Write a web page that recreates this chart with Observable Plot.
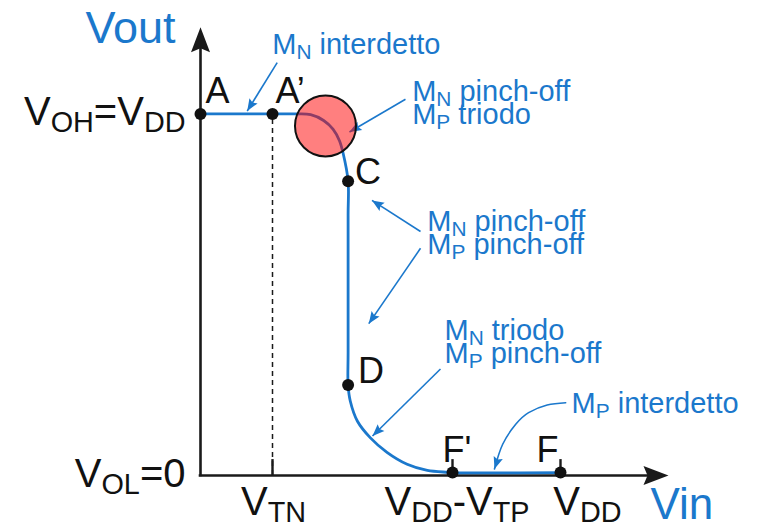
<!DOCTYPE html>
<html>
<head>
<meta charset="utf-8">
<script src="https://cdn.jsdelivr.net/npm/d3@7"></script>
<script src="https://cdn.jsdelivr.net/npm/@observablehq/plot@0.6"></script>
<style>
  html, body { margin: 0; padding: 0; background: #fff; }
  #chart svg { display: block; overflow: visible; }
</style>
</head>
<body>
<div id="chart"></div>
<script>
// CMOS inverter: voltage transfer characteristic Vout(Vin)
const VDD = 5, VTN = 1, VDD_MINUS_VTP = 3.5;

// Transfer curve, traced from A (Vin = 0) to F (Vin = VDD)
const curveVin  = [0, 1.0, 1.32, 1.53, 1.71, 1.84, 1.93, 1.98, 2.05, 2.05, 2.05, 2.05, 2.08, 2.18, 2.36, 2.59, 2.87, 3.15, 3.43, 3.5, 5.0];
const curveVout = [5, 5.0, 5.0, 4.99, 4.91, 4.79, 4.63, 4.46, 4.07, 3.6, 1.7, 1.25, 1.03, 0.75, 0.52, 0.32, 0.155, 0.07, 0.045, 0.04, 0.04];

// Named operating points
const pointNames = ["A", "A’", "C", "D", "F'", "F"];
const pointVin   = [0, VTN, 2.05, 2.05, VDD_MINUS_VTP, VDD];
const pointVout  = [VDD, VDD, 4.07, 1.25, 0.04, 0.04];

// Axis ticks
const xTickValues = [VTN, VDD_MINUS_VTP, VDD];
const xTickLabels = ["V_{TN}", "V_{DD}-V_{TP}", "V_{DD}"];
const yTickValues = [VDD, 0];
const yTickLabels = ["V_{OH}=V_{DD}", "V_{OL}=0"];

// Transistor regions along the curve
const noteTexts = [
  "M_{N} interdetto",
  "M_{N} pinch-off\nM_{P} triodo",
  "M_{N} pinch-off\nM_{P} pinch-off",
  "M_{N} triodo\nM_{P} pinch-off",
  "M_{P} interdetto"
];
const noteVin  = [0.996, 2.94, 3.149, 3.389, 5.153];
const noteVout = [5.826, 4.866, 3.059, 1.556, 0.864];

// Straight pointers from each note to the curve
const pointerFromVin  = [1.065, 2.847, 3.056, 3.056, 3.333];
const pointerFromVout = [5.71, 5.203, 3.375, 3.142, 1.473];
const pointerToVin    = [0.649, 2.069, 2.382, 2.337, 2.389];
const pointerToVout   = [5.04, 4.751, 3.804, 2.10, 0.546];

// Bent pointer for "MP interdetto"
const bentPointerVin  = [5.072, 4.815, 4.557, 4.378, 4.197, 4.083];
const bentPointerVout = [1.007, 0.975, 0.869, 0.708, 0.432, 0.09];

// Highlighted knee of the curve
const kneeVin = [1.736], kneeVout = [4.834];

// ---- layout ----
const W = 761, H = 527;
const M = {left: 200, right: 21, top: 5, bottom: 52};
const xMax = 7.5, yMax = 6.5;
const xAxisEnd = 6.5, yAxisEnd = 6.2;
const kx = (W - M.left - M.right) / xMax;
const ky = (H - M.top - M.bottom) / yMax;

const blue = "#1b78cc";
const ink = "#1a1a1a";
const font = "Liberation Sans, Arial, Helvetica, sans-serif";

// clockwise angle (deg) of a screen-space direction, measured from "up"
function heading(x1, y1, x2, y2) {
  const vx = (x2 - x1) * kx, vy = -(y2 - y1) * ky;
  return Math.atan2(vx, -vy) * 180 / Math.PI;
}

// filled arrowhead, tip at the origin pointing up
const arrowHead = (len, half, notch) => ({
  draw(ctx) {
    ctx.moveTo(0, 0);
    ctx.lineTo(half, len);
    ctx.lineTo(0, len - notch);
    ctx.lineTo(-half, len);
    ctx.closePath();
  }
});

const curve = curveVin.map((v, i) => ({vin: v, vout: curveVout[i]}));
const points = pointNames.map((n, i) => ({name: n, vin: pointVin[i], vout: pointVout[i]}));
const pointers = pointerFromVin.map((v, i) => ({
  x1: v, y1: pointerFromVout[i], x2: pointerToVin[i], y2: pointerToVout[i],
  angle: heading(v, pointerFromVout[i], pointerToVin[i], pointerToVout[i])
}));
const bent = bentPointerVin.map((v, i) => ({vin: v, vout: bentPointerVout[i]}));
const nb = bent.length;
pointers.push({
  x2: bent[nb - 1].vin, y2: bent[nb - 1].vout,
  angle: heading(bent[nb - 2].vin, bent[nb - 2].vout, bent[nb - 1].vin, bent[nb - 1].vout)
});
const notes = noteTexts.map((t, i) => ({text: t, vin: noteVin[i], vout: noteVout[i]}));

// label offsets in pixels, relative to the labelled point
const pointLabelOffset = {
  "A": [5, -11], "A’": [3, -11], "C": [7, 3], "D": [10, -2], "F'": [-10, -11], "F": [-24, -11]
};
const xTickLabelShift = [1, 4.5, 27];

const marks = [
  // dashed guide from A' down to VTN
  Plot.ruleX([VTN], {y1: 0, y2: VDD, stroke: ink, strokeWidth: 1.5, strokeDasharray: "5,4"}),
  // axes
  Plot.ruleY([0], {x1: 0, x2: xAxisEnd - 0.2, stroke: ink, strokeWidth: 2.6, strokeLinecap: "square"}),
  Plot.ruleX([0], {y1: 0, y2: yAxisEnd - 0.2, stroke: ink, strokeWidth: 2.6, strokeLinecap: "square"}),
  Plot.ruleX(xTickValues, {y1: 0, y2: 0.22, stroke: ink, strokeWidth: 2.4}),
  Plot.dot([{x: xAxisEnd, y: 0, a: 90}, {x: 0, y: yAxisEnd, a: 0}], {
    x: "x", y: "y", rotate: "a", symbol: arrowHead(25, 9.5, 4), fill: ink, stroke: "none"
  }),
  // transfer curve
  Plot.line(curve, {x: "vin", y: "vout", stroke: blue, strokeWidth: 2.8, curve: "catmull-rom"}),
  // pointers
  Plot.link(pointers.slice(0, -1), {x1: "x1", y1: "y1", x2: "x2", y2: "y2", stroke: blue, strokeWidth: 1.6}),
  Plot.line(bent, {x: "vin", y: "vout", stroke: blue, strokeWidth: 1.6, curve: "natural"}),
  Plot.dot(pointers, {x: "x2", y: "y2", rotate: "angle", symbol: arrowHead(12, 4.8, 2), fill: blue, stroke: "none"}),
  // operating points
  Plot.dot(points, {x: "vin", y: "vout", r: 6, fill: "#111", stroke: "none"}),
  // highlighted knee
  Plot.dot(kneeVin.map((v, i) => ({vin: v, vout: kneeVout[i]})), {
    x: "vin", y: "vout", r: 30.5, fill: "#ff0000", fillOpacity: 0.5, stroke: "#111", strokeWidth: 2
  }),
  // point letters
  ...points.map(p => Plot.text([p], {
    x: "vin", y: "vout", text: "name", dx: pointLabelOffset[p.name][0], dy: pointLabelOffset[p.name][1],
    textAnchor: "start", lineAnchor: "bottom", fontSize: 36, fill: "#111"
  })),
  // tick labels
  ...xTickValues.map((v, i) => Plot.text([xTickLabels[i]], {
    x: () => v, y: () => 0, text: d => d, dx: xTickLabelShift[i], dy: 39,
    textAnchor: "middle", lineAnchor: "bottom", fontSize: 40, fill: "#111"
  })),
  Plot.text(yTickValues.map((v, i) => ({v, label: yTickLabels[i]})), {
    x: () => 0, y: "v", text: "label", dx: -15, dy: 11,
    textAnchor: "end", lineAnchor: "bottom", fontSize: 40, fill: "#111"
  }),
  // axis titles
  Plot.text(["Vout"], {x: () => 0, y: () => yAxisEnd, text: d => d, dx: -115, dy: 16,
    textAnchor: "start", lineAnchor: "bottom", fontSize: 45, fill: blue}),
  Plot.text(["Vin"], {x: () => xAxisEnd, y: () => 0, text: d => d, dx: -18, dy: 43,
    textAnchor: "start", lineAnchor: "bottom", fontSize: 44, fill: blue}),
  // region notes
  Plot.text(notes, {x: "vin", y: "vout", text: "text", textAnchor: "start", lineAnchor: "bottom",
    lineHeight: 0.79, fontSize: 29, fill: blue})
];

const chart = Plot.plot({
  width: W, height: H,
  marginLeft: M.left, marginRight: M.right, marginTop: M.top, marginBottom: M.bottom,
  x: {domain: [0, xMax], axis: null},
  y: {domain: [0, yMax], axis: null},
  style: {fontFamily: font, background: "#fff", overflow: "visible"},
  marks
});

// turn "_{...}" markup into subscript tspans
function applySubscripts(svg) {
  const NS = "http://www.w3.org/2000/svg";
  svg.querySelectorAll("text").forEach(text => {
    const lines = text.querySelectorAll("tspan");
    const targets = lines.length ? Array.from(lines) : [text];
    for (const el of targets) {
      const s = el.textContent;
      if (!s.includes("_{")) continue;
      el.textContent = "";
      const re = /_\{([^}]*)\}/g;
      let last = 0, m;
      while ((m = re.exec(s))) {
        if (m.index > last) el.appendChild(document.createTextNode(s.slice(last, m.index)));
        const sub = document.createElementNS(NS, "tspan");
        sub.setAttribute("font-size", "0.72em");
        sub.setAttribute("baseline-shift", "-0.25em");
        sub.textContent = m[1];
        el.appendChild(sub);
        last = re.lastIndex;
      }
      if (last < s.length) el.appendChild(document.createTextNode(s.slice(last)));
    }
  });
}
applySubscripts(chart);
document.getElementById("chart").appendChild(chart);
</script>
</body>
</html>
